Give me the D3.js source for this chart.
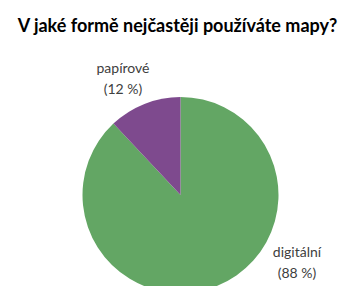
<!DOCTYPE html>
<html>
<head>
<meta charset="utf-8">
<script src="https://cdn.jsdelivr.net/npm/d3@7"></script>
<style>
  body { margin: 0; background: #fff; }
  text { font-family: Lato, "Open Sans", sans-serif; }
</style>
</head>
<body>
<div id="pie"></div>
<script>
var title = "V jaké formě nejčastěji používáte mapy?";
var categories = ["digitální", "papírové"];
var values = [88, 12];
var colors = ["#63a664", "#7e4a8e"];

var width = 348, height = 286;
var cx = 180.5, cy = 195, radius = 98;

var svg = d3.select("#pie")
  .append("svg")
  .attr("width", width)
  .attr("height", height);

svg.append("text")
  .attr("x", 177.5)
  .attr("y", 32)
  .attr("text-anchor", "middle")
  .style("font-size", "18px")
  .style("font-weight", "bold")
  .style("fill", "#000")
  .text(title);

var pie = d3.pie().sort(null).value(d => d);
var arc = d3.arc().innerRadius(0).outerRadius(radius);

var g = svg.append("g")
  .attr("transform", "translate(" + cx + "," + cy + ")");

g.selectAll("path")
  .data(pie(values))
  .enter()
  .append("path")
  .attr("d", arc)
  .style("fill", (d, i) => colors[i]);

// labels outside the pie
var labelPos = [[297, 257], [123, 73]];
categories.forEach(function(c, i) {
  var t = svg.append("text")
    .attr("text-anchor", "middle")
    .style("font-size", "14px")
    .style("fill", "#404040");
  t.append("tspan").attr("x", labelPos[i][0]).attr("y", labelPos[i][1]).text(c);
  t.append("tspan").attr("x", labelPos[i][0]).attr("y", labelPos[i][1] + 21).text("(" + values[i] + " %)");
});
</script>
</body>
</html>
